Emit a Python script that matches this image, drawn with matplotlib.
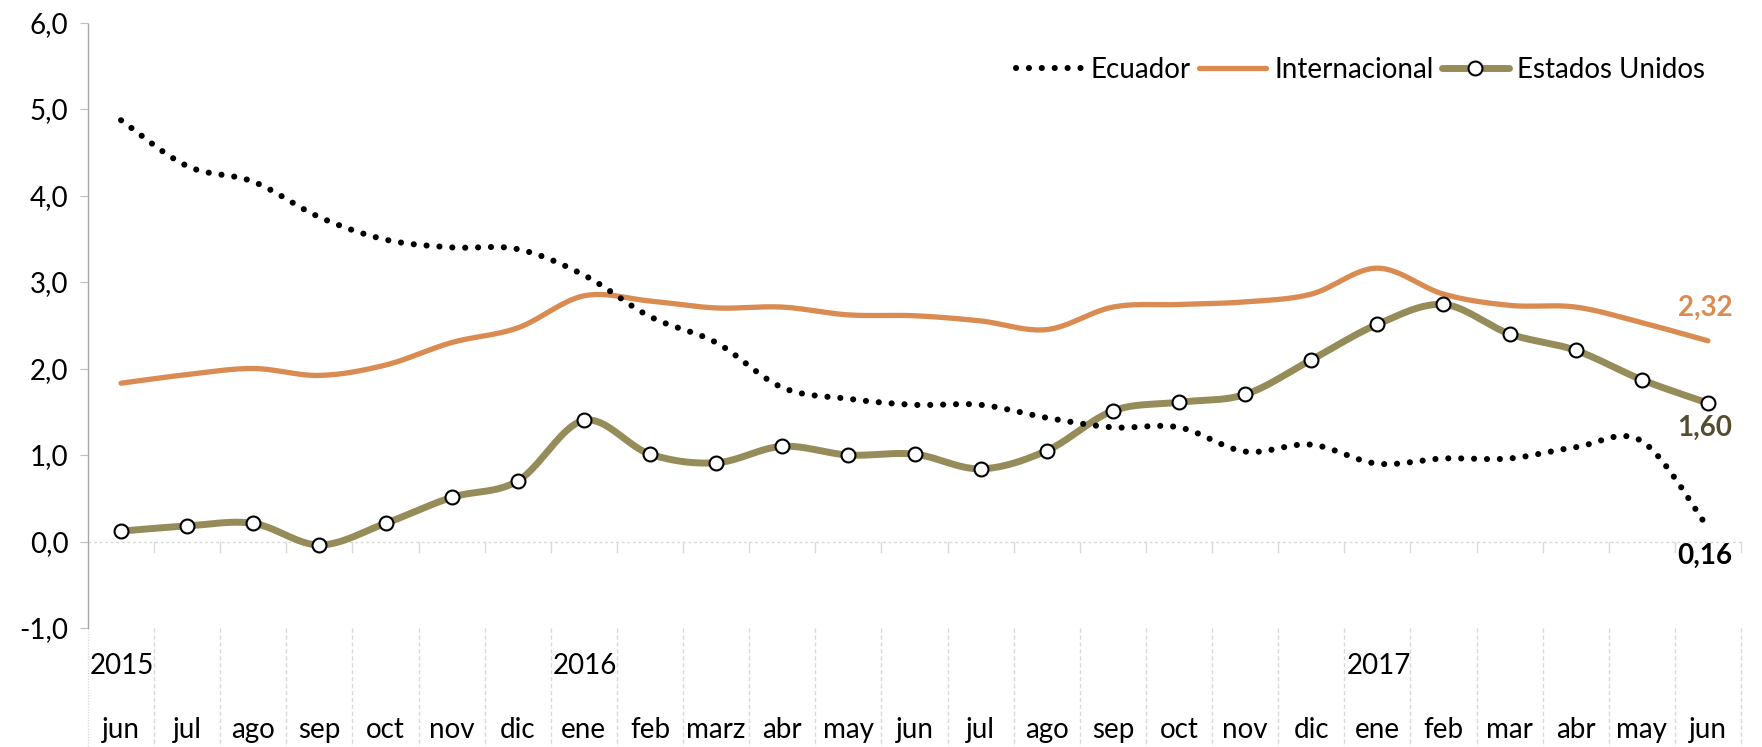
import matplotlib
matplotlib.use("Agg")
import matplotlib.pyplot as plt
import matplotlib.transforms as mtransforms
from matplotlib.lines import Line2D
import numpy as np

plt.rcParams['font.family'] = ['Lato', 'DejaVu Sans']

months = ["jun", "jul", "ago", "sep", "oct", "nov", "dic", "ene", "feb", "marz", "abr", "may",
          "jun", "jul", "ago", "sep", "oct", "nov", "dic", "ene", "feb", "mar", "abr", "may", "jun"]
years = ["2015", "2016", "2017"]
year_pos = [0, 7, 19]

ecuador = [4.87, 4.34, 4.16, 3.75, 3.49, 3.40, 3.38, 3.08, 2.60, 2.30, 1.78, 1.65,
           1.58, 1.58, 1.43, 1.32, 1.32, 1.04, 1.12, 0.90, 0.96, 0.96, 1.09, 1.16, 0.16]
internacional = [1.83, 1.93, 2.00, 1.92, 2.04, 2.30, 2.47, 2.84, 2.78, 2.70, 2.71, 2.62,
                 2.61, 2.55, 2.45, 2.71, 2.74, 2.77, 2.86, 3.16, 2.86, 2.73, 2.71, 2.53, 2.32]
eeuu = [0.12, 0.18, 0.21, -0.04, 0.21, 0.51, 0.70, 1.40, 1.01, 0.91, 1.10, 1.00,
        1.01, 0.84, 1.05, 1.51, 1.61, 1.70, 2.10, 2.51, 2.74, 2.40, 2.21, 1.87, 1.60]

C_ORANGE = "#D98B52"
C_OLIVE = "#958C59"
C_OLIVE_DARK = "#524D2F"
FS = 20


def smooth(x, y, n=24):
    x = np.asarray(x, float)
    y = np.asarray(y, float)
    px = np.concatenate([[x[0]], x, [x[-1]]])
    py = np.concatenate([[y[0]], y, [y[-1]]])
    xs, ys = [], []
    t = np.linspace(0, 1, n)
    for i in range(1, len(px) - 2):
        p0 = np.array([px[i], py[i]])
        p3 = np.array([px[i + 1], py[i + 1]])
        c1 = p0 + (np.array([px[i + 1], py[i + 1]]) - np.array([px[i - 1], py[i - 1]])) / 6
        c2 = p3 - (np.array([px[i + 2], py[i + 2]]) - np.array([px[i], py[i]])) / 6
        b = ((1 - t) ** 3)[:, None] * p0 + (3 * (1 - t) ** 2 * t)[:, None] * c1 + \
            (3 * (1 - t) * t ** 2)[:, None] * c2 + (t ** 3)[:, None] * p3
        xs.append(b[:, 0])
        ys.append(b[:, 1])
    return np.concatenate(xs), np.concatenate(ys)


fig = plt.figure(figsize=(17.62, 7.47), dpi=100)
L, R, T, B = 88, 1741, 22.5, 628
ax = fig.add_axes([L / 1762, 1 - B / 747, (R - L) / 1762, (B - T) / 747])

x = np.arange(len(months))
ax.set_xlim(-0.5, len(months) - 0.5)
ax.set_ylim(-1, 6)

# zero line
ax.axhline(0, color="#D9D9D9", lw=1, ls=(0, (2, 2)), zorder=1)

LW_OR, LW_OL, LW_EC = 3.8, 5.0, 4.4
DOT = (0, (0.01, 2.1))

sx, sy = smooth(x, internacional)
ax.plot(sx, sy, color=C_ORANGE, lw=LW_OR, solid_capstyle="round", zorder=3)

sx, sy = smooth(x, eeuu)
ax.plot(sx, sy, color=C_OLIVE, lw=LW_OL, solid_capstyle="round", zorder=4)
ax.plot(x, eeuu, ls="none", marker="o", ms=10, mfc="white", mec="black", mew=1.5, zorder=5)

sx, sy = smooth(x, ecuador)
ax.plot(sx, sy, color="black", lw=LW_EC, ls=DOT, dash_capstyle="round", zorder=6)

# data labels
ax.annotate("2,32", (x[-1], internacional[-1]), xytext=(-2, 24), textcoords="offset points",
            ha="center", va="center", fontsize=FS, fontweight="bold", color=C_ORANGE)
ax.annotate("1,60", (x[-1], eeuu[-1]), xytext=(-2, -18), textcoords="offset points",
            ha="center", va="center", fontsize=FS, fontweight="bold", color=C_OLIVE_DARK)
ax.annotate("0,16", (x[-1], ecuador[-1]), xytext=(-2, -20), textcoords="offset points",
            ha="center", va="center", fontsize=FS, fontweight="bold", color="black")

# axes styling
for s in ["top", "right", "bottom"]:
    ax.spines[s].set_visible(False)
ax.spines["left"].set_color("#A6A6A6")
ax.spines["left"].set_linestyle((0, (1, 1)))
ax.spines["left"].set_linewidth(1)
ax.set_yticks(np.arange(-1, 7, 1))
ax.set_yticklabels([f"{v:.1f}".replace(".", ",") for v in np.arange(-1, 7, 1)])
ax.tick_params(axis="y", direction="out", length=6, color="#BFBFBF", labelsize=FS, pad=8)
ax.set_xticks([])

trans = mtransforms.blended_transform_factory(ax.transData, ax.transAxes)
ax_h = B - T
zero_frac = 1 / 7.0
tick_len = 10 / ax_h
bottom_frac = -(747 - B) / ax_h
for b in np.arange(-0.5, len(months), 1.0):
    if b > -0.5:
        ax.plot([b, b], [zero_frac, zero_frac - tick_len], transform=trans, color="#D9D9D9",
                lw=1, clip_on=False, zorder=1)
    ax.plot([b, b], [0, bottom_frac], transform=trans, color="#D9D9D9", lw=1,
            ls=(0, (3, 2)) if b > -0.5 else (0, (1, 1)), clip_on=False, zorder=1)

month_y = -(730 - B) / ax_h
year_y = -(666 - B) / ax_h
for i, m in enumerate(months):
    ax.text(i, month_y, m, transform=trans, ha="center", va="center", fontsize=FS, clip_on=False)
for p, yl in zip(year_pos, years):
    ax.text(p - 0.47, year_y, yl, transform=trans, ha="left", va="center", fontsize=FS, clip_on=False)

handles = [
    Line2D([], [], color="black", lw=LW_EC, ls=DOT, dash_capstyle="round"),
    Line2D([], [], color=C_ORANGE, lw=LW_OR, solid_capstyle="round"),
    Line2D([], [], color=C_OLIVE, lw=LW_OL, marker="o", ms=10, mfc="white", mec="black", mew=1.5,
           solid_capstyle="round"),
]
fig.legend(handles, ["Ecuador", "Internacional", "Estados Unidos"], ncol=3, frameon=False,
           loc="center right", bbox_to_anchor=(1716 / 1762, 1 - 70 / 747), fontsize=FS,
           handlelength=2.4, handletextpad=0.3, columnspacing=0.3, borderaxespad=0)

fig.savefig("out.png", dpi=100)
